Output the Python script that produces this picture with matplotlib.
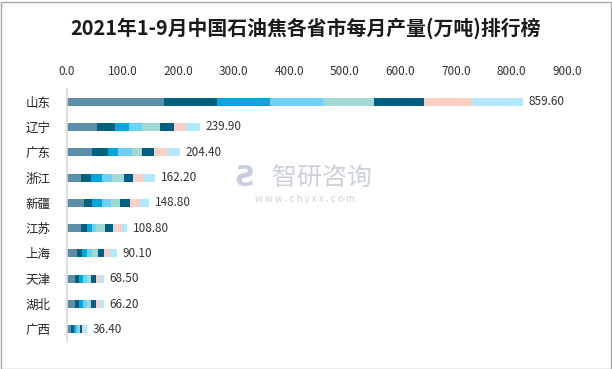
import matplotlib
matplotlib.use("Agg")
import matplotlib.pyplot as plt
import numpy as np

plt.rcParams['font.family'] = ['Noto Sans CJK SC', 'DejaVu Sans']

provinces = ["山东", "辽宁", "广东", "浙江", "新疆", "江苏", "上海", "天津", "湖北", "广西"]
totals = [859.60, 239.90, 204.40, 162.20, 148.80, 108.80, 90.10, 68.50, 66.20, 36.40]
months = ["1-2月", "3月", "4月", "5月", "6月", "7月", "8月", "9月"]
# monthly values per province (columns follow months)
m12 = [174.6, 54.0, 45.0, 25.2, 30.6, 25.2, 18.0, 14.4, 14.4, 7.2]
m3 = [95.4, 32.4, 28.8, 18.0, 14.4, 10.8, 9.0, 7.2, 7.2, 5.4]
m4 = [95.4, 25.2, 18.0, 19.8, 18.0, 9.0, 9.0, 7.2, 7.2, 3.6]
m5 = [95.4, 23.4, 25.2, 18.0, 16.2, 7.2, 9.0, 7.2, 7.2, 5.4]
m6 = [91.8, 32.4, 18.0, 21.6, 16.2, 16.2, 10.8, 7.2, 7.2, 1.8]
m7 = [90.0, 25.2, 21.6, 16.2, 18.0, 14.4, 10.8, 9.0, 9.0, 3.6]
m8 = [87.0, 21.6, 23.4, 18.0, 18.0, 14.4, 9.0, 5.4, 7.2, 3.6]
m9 = [91.2, 24.7, 23.4, 21.6, 16.2, 10.8, 14.4, 9.0, 7.2, 5.4]
series = [m12, m3, m4, m5, m6, m7, m8, m9]
colors = ["#5B8FA8", "#00617F", "#00A6DC", "#6DD0F5", "#A0D8D4", "#005F82", "#F9CFC6", "#B3E8FC"]
xticks = [0, 100, 200, 300, 400, 500, 600, 700, 800, 900]

fig = plt.figure(figsize=(6.12, 3.69), dpi=100)
W, H = 612, 369
ax = fig.add_axes([67 / W, 1 - 342 / H, 500 / W, (342 - 89) / H])

y = np.arange(len(provinces))
left = np.zeros(len(provinces))
for vals, c, m in zip(series, colors, months):
    ax.barh(y, vals, left=left, height=0.32, color=c, label=m)
    left += np.array(vals)

for yi, end, t in zip(y, left, totals):
    ax.text(end + 10, yi, f"{t:.2f}", va="center", ha="left", fontsize=8.5, color="#333333")

ax.set_xlim(0, 900)
ax.set_ylim(len(provinces) - 0.5, -0.5)
ax.set_yticks(y)
ax.set_yticklabels(provinces, fontsize=9, color="#222222")
ax.set_xticks(xticks)
ax.set_xticklabels([f"{v:.1f}" for v in xticks], fontsize=8.5, color="#333333")
ax.xaxis.tick_top()
ax.tick_params(axis="x", length=0, pad=8)
ax.tick_params(axis="y", length=0, pad=12)
for s in ["top", "right", "bottom"]:
    ax.spines[s].set_visible(False)
ax.spines["left"].set_color("#D9D9D9")
ax.spines["left"].set_linewidth(1.2)

fig.text(0.5, 1 - 28 / H, "2021年1-9月中国石油焦各省市每月产量(万吨)排行榜",
         ha="center", va="center", fontsize=14.3, fontweight="bold", color="#1a1a1a")

# watermark
fig.text(322 / W, 1 - 178 / H, "智研咨询", ha="center", va="center", fontsize=18,
         color="#C5CAD3", alpha=0.85)
fig.text(245 / W, 1 - 178 / H, "Ƨ", ha="center", va="center", fontsize=20,
         color="#B8C2D6", alpha=0.8, fontweight="bold", family="DejaVu Sans")
fig.text(305 / W, 1 - 199 / H, "w w w . c h y x x . c o m", ha="center", va="center",
         fontsize=7, color="#C5CAD3", alpha=0.85)

# figure border
fig.add_artist(plt.Rectangle((0.5 / W, 0.5 / H), 1 - 2 / W, 1 - 2 / H, transform=fig.transFigure,
                             fill=False, edgecolor="#A6A6A6", linewidth=1))

fig.savefig("out.png", dpi=100)
